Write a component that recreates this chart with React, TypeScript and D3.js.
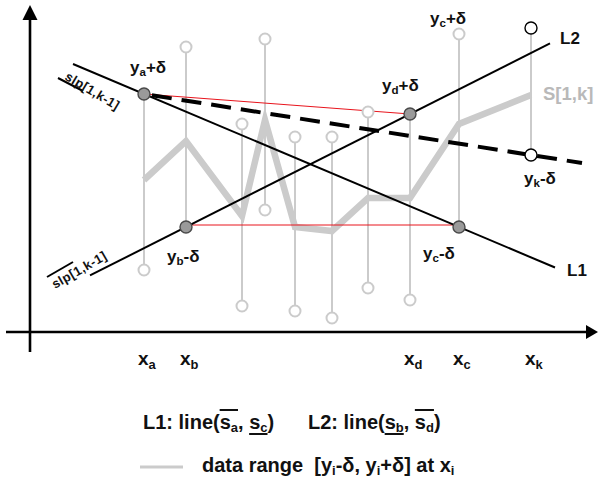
import { useEffect, useRef } from 'react';
import * as d3 from 'd3';

const W = 598;
const H = 480;

// stem positions and the data range [y-δ, y+δ] at each of them
const xs = [11.4, 15.6, 21.2, 23.5, 26.5, 30.2, 33.8, 38.0, 42.9, 50.1];
const upper = [23.8, 28.5, 20.8, 29.3, 19.5, 19.5, 22.0, 21.8, 29.8, 30.4];
const lower = [6.2, 10.5, 2.6, 12.2, 2.1, 1.4, 4.4, 3.2, 10.5, 17.7];
// the S[1,k] polyline
const sVals = [15.2, 19.1, 11.6, 21.2, 10.5, 10.1, 13.4, 13.4, 20.8, 23.7];

// named stems
const IA = 0, IB = 1, ID = 7, IC = 8, IK = 9;
const xTickIdx = [IA, IB, ID, IC, IK];
const xTickSub = ['a', 'b', 'd', 'c', 'k'];

// how far the lines reach (x units)
const l1Span = [4.3, 52.5];
const l2Span = [6.0, 52.0];
const slpSpan = [11.4, 55.2];

const FONT = '"Liberation Sans", Arial, sans-serif';
const GRAY = '#cbcbcb';

const App = () => {
  const ref = useRef(null);

  useEffect(() => {
    const svg = d3.select(ref.current);
    svg.selectAll('*').remove();

    const x = d3.scaleLinear().domain([0, 57]).range([30, 600]);
    const y = d3.scaleLinear().domain([0, 33]).range([332, 2]);

    // line through two points, drawn over a span
    const through = (x1, y1, x2, y2, span) => {
      const k = (y2 - y1) / (x2 - x1);
      return span.map((v) => [x(v), y(y1 + k * (v - x1))]);
    };
    const seg = d3.line();

    // axes
    const x0 = x(0), y0 = y(0);
    svg.append('line').attr('x1', 6).attr('x2', W - 10).attr('y1', y0).attr('y2', y0)
      .attr('stroke', '#000').attr('stroke-width', 2.6);
    svg.append('path').attr('d', `M${W},${y0} L${W - 12},${y0 - 7} L${W - 12},${y0 + 7} Z`).attr('fill', '#000');
    svg.append('line').attr('x1', x0).attr('x2', x0).attr('y1', y0 + 20).attr('y2', 16)
      .attr('stroke', '#000').attr('stroke-width', 2.6);
    svg.append('path').attr('d', `M${x0},5 L${x0 - 7.5},20 L${x0 + 7.5},20 Z`).attr('fill', '#000');

    // stems
    svg.append('g').selectAll('line').data(xs).join('line')
      .attr('x1', (d) => x(d)).attr('x2', (d) => x(d))
      .attr('y1', (d, i) => y(upper[i])).attr('y2', (d, i) => y(lower[i]))
      .attr('stroke', GRAY).attr('stroke-width', 2);

    // S[1,k]
    svg.append('path')
      .attr('d', d3.line()(xs.map((d, i) => [x(d), y(sVals[i])])))
      .attr('fill', 'none').attr('stroke', GRAY).attr('stroke-width', 6.5).attr('stroke-linejoin', 'miter');

    // red connectors
    const red = [
      [[x(xs[IA]), y(upper[IA])], [x(xs[ID]), y(upper[ID])]],
      [[x(xs[IB]), y(lower[IB]) - 2], [x(xs[IC]), y(lower[IC]) - 2]],
    ];
    red.forEach((r) => svg.append('path').attr('d', seg(r)).attr('stroke', '#e8141c').attr('stroke-width', 1).attr('fill', 'none'));

    // L1, L2
    const l1 = through(xs[IA], upper[IA], xs[IC], lower[IC], l1Span);
    const l2 = through(xs[IB], lower[IB], xs[ID], upper[ID], l2Span);
    svg.append('path').attr('d', seg(l1)).attr('stroke', '#000').attr('stroke-width', 2).attr('fill', 'none');
    svg.append('path').attr('d', seg(l2)).attr('stroke', '#000').attr('stroke-width', 2).attr('fill', 'none');

    // dashed slope a -> k
    const sl = through(xs[IA], upper[IA], xs[IK], lower[IK], slpSpan);
    svg.append('path').attr('d', seg(sl)).attr('stroke', '#000').attr('stroke-width', 4)
      .attr('stroke-dasharray', '20,10').attr('stroke-dashoffset', -8).attr('fill', 'none');

    // stem end circles
    const ends = [];
    xs.forEach((d, i) => {
      ends.push({ x: d, y: upper[i], kind: i === IA || i === ID ? 'hit' : i === IK ? 'k' : 'open' });
      ends.push({ x: d, y: lower[i], kind: i === IB || i === IC ? 'hit' : i === IK ? 'k' : 'open' });
    });
    svg.append('g').selectAll('circle').data(ends).join('circle')
      .attr('cx', (d) => x(d.x)).attr('cy', (d) => y(d.y))
      .attr('r', (d) => (d.kind === 'open' ? 5.5 : 6))
      .attr('fill', (d) => (d.kind === 'hit' ? '#9a9a9a' : '#fff'))
      .attr('stroke', (d) => (d.kind === 'hit' ? '#4a4a4a' : d.kind === 'k' ? '#000' : GRAY))
      .attr('stroke-width', (d) => (d.kind === 'open' ? 2 : 1.4));

    // text with a subscript
    const subText = (px, py, main, sub, rest, size, fill = '#111') => {
      const t = svg.append('text').attr('x', px).attr('y', py)
        .attr('font-family', FONT).attr('font-weight', 'bold').attr('font-size', size).attr('fill', fill);
      t.append('tspan').text(main);
      t.append('tspan').attr('dy', size * 0.2).attr('font-size', size * 0.68).text(sub);
      if (rest) t.append('tspan').attr('dy', -size * 0.2).text(rest);
      return t;
    };

    subText(x(xs[IA]) - 14, y(upper[IA]) - 21, 'y', 'a', '+δ', 17);
    subText(x(xs[IB]) - 19, y(lower[IB]) + 35, 'y', 'b', '-δ', 17);
    subText(x(xs[ID]) - 28, y(upper[ID]) - 23, 'y', 'd', '+δ', 17);
    subText(x(xs[IC]) - 29, y(upper[IC]) - 10, 'y', 'c', '+δ', 17);
    subText(x(xs[IC]) - 36, y(lower[IC]) + 32, 'y', 'c', '-δ', 17);
    subText(x(xs[IK]) - 7, y(lower[IK]) + 29, 'y', 'k', '-δ', 17);

    const plain = (px, py, s, size, fill = '#111') =>
      svg.append('text').attr('x', px).attr('y', py).attr('font-family', FONT)
        .attr('font-weight', 'bold').attr('font-size', size).attr('fill', fill).text(s);
    plain(l2[1][0] + 10, l2[1][1] + 1, 'L2', 17);
    plain(l1[1][0] + 12, l1[1][1] + 8, 'L1', 17);
    plain(x(xs[IK]) + 12, y(sVals[IK]) + 5, 'S[1,k]', 18.5, '#b9b9b9');

    // x tick labels
    xTickIdx.forEach((idx, j) => subText(x(xs[idx]) - 6, 365, 'x', xTickSub[j], null, 19));

    // slope marks
    svg.append('line').attr('x1', 58).attr('y1', 78).attr('x2', 83).attr('y2', 91).attr('stroke', '#000').attr('stroke-width', 2);
    svg.append('text').attr('transform', 'translate(64,79) rotate(31)').attr('font-family', FONT)
      .attr('font-weight', 'bold').attr('font-size', 13).attr('letter-spacing', 0.4).attr('fill', '#111').text('slp[1,k-1]');
    svg.append('line').attr('x1', 47).attr('y1', 277).attr('x2', 73).attr('y2', 262).attr('stroke', '#000').attr('stroke-width', 2);
    svg.append('text').attr('transform', 'translate(55,289) rotate(-30)').attr('font-family', FONT)
      .attr('font-weight', 'bold').attr('font-size', 13).attr('letter-spacing', 0.4).attr('fill', '#111').text('slp[1,k-1]');

    // legend row 1
    const legendLine = (px, name, s1, s2, over) => {
      const t = svg.append('text').attr('x', px).attr('y', 429).attr('font-family', FONT)
        .attr('font-weight', 'bold').attr('font-size', 20).attr('fill', '#111');
      t.append('tspan').text(`${name}: line(s`);
      t.append('tspan').attr('dy', 3).attr('font-size', 13).text(s1);
      t.append('tspan').attr('dy', -3).text(', s');
      t.append('tspan').attr('dy', 3).attr('font-size', 13).text(s2);
      t.append('tspan').attr('dy', -3).text(')');
      const n = t.node();
      const mark = (i0, i1, isOver) => {
        const a = n.getStartPositionOfChar(i0).x;
        const b = n.getEndPositionOfChar(i1).x;
        const yy = isOver ? 410 : 434;
        svg.append('line').attr('x1', a).attr('x2', b).attr('y1', yy).attr('y2', yy)
          .attr('stroke', '#111').attr('stroke-width', 2);
      };
      mark(9, 10, over);
      mark(13, 14, !over);
    };
    legendLine(143, 'L1', 'a', 'c', true);
    legendLine(308, 'L2', 'b', 'd', false);

    // legend row 2
    svg.append('line').attr('x1', 140).attr('x2', 183).attr('y1', 467).attr('y2', 467)
      .attr('stroke', GRAY).attr('stroke-width', 3);
    const t2 = svg.append('text').attr('x', 202).attr('y', 472).attr('font-family', FONT)
      .attr('font-weight', 'bold').attr('font-size', 20).attr('fill', '#111').style('white-space', 'pre');
    t2.append('tspan').text('data range  [y');
    t2.append('tspan').attr('dy', 3).attr('font-size', 13).text('i');
    t2.append('tspan').attr('dy', -3).text('-δ, y');
    t2.append('tspan').attr('dy', 3).attr('font-size', 13).text('i');
    t2.append('tspan').attr('dy', -3).text('+δ] at x');
    t2.append('tspan').attr('dy', 3).attr('font-size', 13).text('i');
  }, []);

  return (
    <svg ref={ref} width={W} height={H} style={{ position: 'absolute', left: 0, top: 0, background: '#fff' }} />
  );
};

export default App;
